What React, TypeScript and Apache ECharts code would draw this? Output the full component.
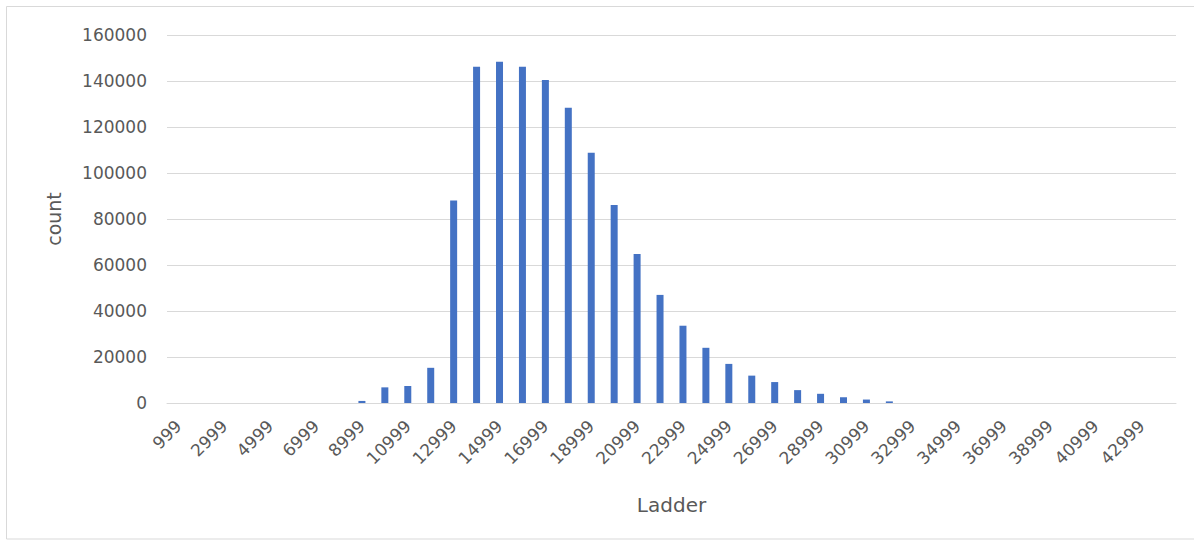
import React, { useEffect, useRef } from "react";
import * as echarts from "echarts";

// Price ladder buckets (upper bound of each bucket)
const ladders: string[] = [
  "999", "1999", "2999", "3999", "4999", "5999", "6999", "7999", "8999", "9999",
  "10999", "11999", "12999", "13999", "14999", "15999", "16999", "17999", "18999", "19999",
  "20999", "21999", "22999", "23999", "24999", "25999", "26999", "27999", "28999", "29999",
  "30999", "31999", "32999", "33999", "34999", "35999", "36999", "37999", "38999", "39999",
  "40999", "41999", "42999", "43999",
];

// Number of records per ladder bucket
const counts: number[] = [
  0, 0, 0, 0, 0, 0, 0, 0, 900, 6800,
  7400, 15300, 88000, 146200, 148400, 146200, 140400, 128400, 108800, 86100,
  64800, 47000, 33600, 24000, 17000, 11900, 9100, 5600, 4000, 2500,
  1500, 700, 0, 0, 0, 0, 0, 0, 0, 0,
  0, 0, 0, 0,
];

const yMin = 0;
const yMax = 160000;
const yStep = 20000;

const FONT = "DejaVu Sans";
const TEXT = "#595959";
const GRID = "#d9d9d9";

export default function App() {
  const ref = useRef<HTMLDivElement>(null);

  useEffect(() => {
    if (!ref.current) return;
    const chart = echarts.init(ref.current, undefined, { renderer: "svg" });
    chart.setOption({
      animation: false,
      backgroundColor: "#ffffff",
      textStyle: { fontFamily: FONT },
      graphic: [
        {
          type: "rect",
          shape: { x: 6.5, y: 6.5, width: 1200, height: 532.5 },
          style: { fill: "none", stroke: GRID, lineWidth: 1 },
          silent: true,
        },
      ],
      grid: { left: 167, right: 18, top: 35, bottom: 139, containLabel: false },
      xAxis: {
        type: "category",
        data: ladders,
        name: "Ladder",
        nameLocation: "middle",
        nameGap: 92,
        nameTextStyle: { color: TEXT, fontSize: 20, fontFamily: FONT },
        axisLine: { show: true, lineStyle: { color: GRID, width: 1 } },
        axisTick: { show: false },
        axisLabel: {
          interval: 1,
          rotate: 45,
          margin: 20,
          color: TEXT,
          fontSize: 17,
          fontFamily: FONT,
        },
      },
      yAxis: {
        type: "value",
        min: yMin,
        max: yMax,
        interval: yStep,
        name: "count",
        nameLocation: "middle",
        nameGap: 104,
        nameTextStyle: { color: TEXT, fontSize: 19, fontFamily: FONT },
        axisLine: { show: false },
        axisTick: { show: false },
        axisLabel: {
          color: TEXT,
          fontSize: 17,
          fontFamily: FONT,
          margin: 20,
          formatter: (v: number) => String(v),
        },
        splitLine: { show: true, lineStyle: { color: GRID, width: 1 } },
      },
      series: [
        {
          type: "bar",
          data: counts,
          barWidth: 7,
          itemStyle: { color: "#4472c4" },
        },
      ],
    });
    return () => chart.dispose();
  }, []);

  return (
    <div
      ref={ref}
      style={{ position: "absolute", left: 0, top: 0, width: 1194, height: 542 }}
    />
  );
}
